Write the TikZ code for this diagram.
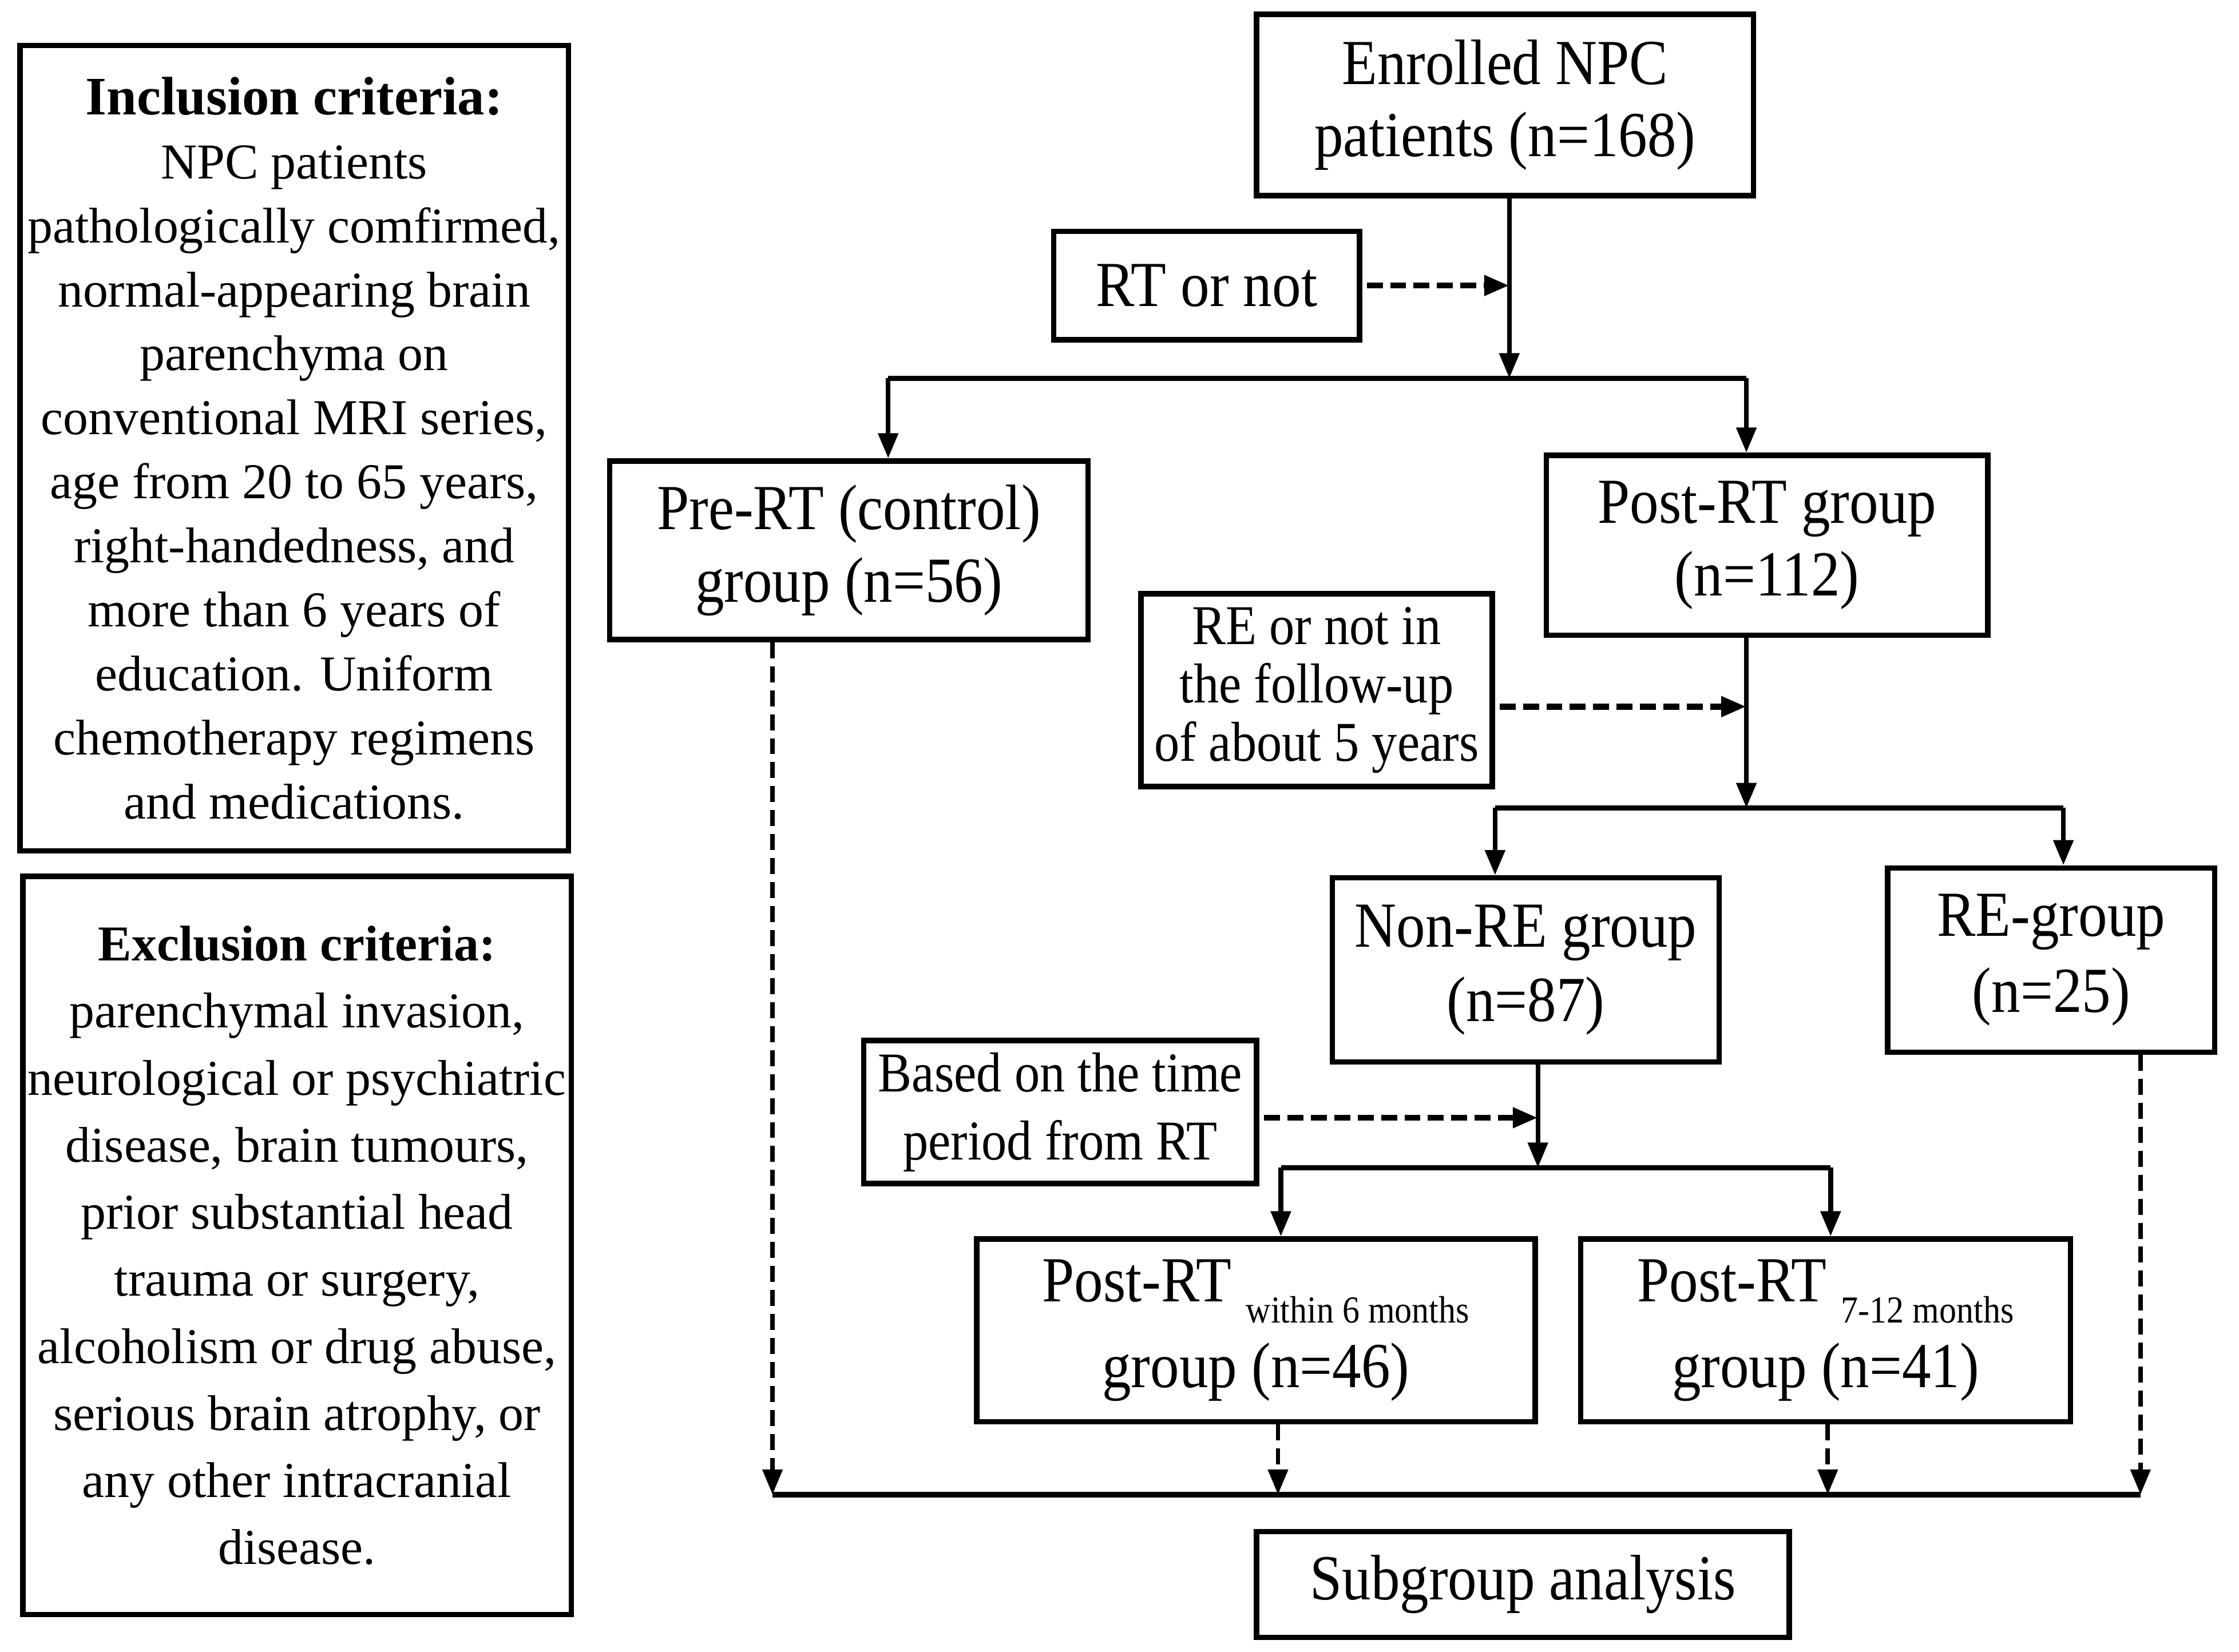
\documentclass[tikz,border=0pt]{standalone}
\usepackage{fontspec}
\setmainfont{Liberation Serif}
\newfontfamily\fc[FakeStretch=0.9]{Liberation Serif}
\usetikzlibrary{arrows.meta}
\begin{document}
\begin{tikzpicture}[x=0.025cm,y=-0.025cm,
  box/.style={draw, line width=2.7pt, align=center, inner sep=0pt},
  fcbig/.style={font=\fc\fontsize{32}{36}\selectfont},
  fcsmall/.style={font=\fc\fontsize{28}{29.2}\selectfont},
  conn/.style={line width=2.4pt},
  arr/.style={conn, -{Triangle[length=0.44cm,width=0.34cm]}},
  darr/.style={line width=2.2pt, dash pattern=on 0.28cm off 0.14cm, -{Triangle[length=0.44cm,width=0.34cm]}},
  hdarr/.style={line width=3pt, dash pattern=on 0.28cm off 0.13cm, shorten <=0.08cm, -{Triangle[length=0.44cm,width=0.34cm]}}]
\useasboundingbox (0,0) rectangle (1568,1157);

% criteria boxes
\node[box, minimum width=9.6cm, minimum height=14.1cm, font=\fontsize{25}{31.9}\selectfont] (incl) at (206,314)
  {{\fontsize{27}{31.9}\selectfont\textbf{Inclusion criteria:}}\\NPC patients\\pathologically comfirmed,\\normal-appearing brain\\parenchyma on\\conventional MRI series,\\age from 20 to 65 years,\\right-handedness, and\\more than 6 years of\\education. Uniform\\chemotherapy regimens\\and medications.};
\node[box, minimum width=9.6cm, minimum height=12.925cm, font=\fontsize{25}{33.4}\selectfont] (excl) at (208,872.5)
  {\textbf{Exclusion criteria:}\\parenchymal invasion,\\neurological or psychiatric\\disease, brain tumours,\\prior substantial head\\trauma or surgery,\\alcoholism or drug abuse,\\serious brain atrophy, or\\any other intracranial\\disease.};

% flowchart nodes
\node[box, fcbig, minimum width=8.7cm, minimum height=3.175cm] (enr) at (1054,73.5) {Enrolled NPC\\patients (n=168)};
\node[box, fcbig, minimum width=5.35cm, minimum height=1.9cm] (rt) at (845,200) {RT or not};
\node[box, fcbig, minimum width=8.375cm, minimum height=3.125cm] (pre) at (594.5,385.5) {Pre-RT (control)\\group (n=56)};
\node[box, fcbig, minimum width=7.725cm, minimum height=3.15cm] (post) at (1237.5,382) {Post-RT group\\(n=112)};
\node[box, fcsmall, minimum width=6.15cm, minimum height=3.375cm] (reor) at (922,483.5) {RE or not in\\the follow-up\\of about 5 years};
\node[box, font=\fc\fontsize{32}{37}\selectfont, minimum width=6.775cm, minimum height=3.225cm] (nonre) at (1068.5,679.5) {Non-RE group\\(n=87)};
\node[box, font=\fc\fontsize{32}{38}\selectfont, minimum width=5.725cm, minimum height=3.225cm] (re) at (1436.5,672.5) {RE-group\\(n=25)};
\node[box, font=\fc\fontsize{28}{34}\selectfont, minimum width=6.875cm, minimum height=2.5cm] (based) at (742.5,779) {Based on the time\\period from RT};
\node[box, font=\fc\fontsize{32}{43}\selectfont, minimum width=9.775cm, minimum height=3.2cm] (w6) at (879.5,932)
  {Post-RT \raisebox{-0.375cm}{\fontsize{19}{19}\selectfont within 6 months}\\group (n=46)};
\node[box, font=\fc\fontsize{32}{43}\selectfont, minimum width=8.575cm, minimum height=3.2cm] (m12) at (1278.5,932)
  {Post-RT \raisebox{-0.375cm}{\fontsize{19}{19}\selectfont 7-12 months}\\group (n=41)};
\node[box, fcbig, minimum width=9.325cm, minimum height=1.85cm] (sub) at (1066.5,1110) {Subgroup analysis};

% level 1
\coordinate (j1) at (1057,265);
\coordinate (j1l) at (622,265);
\coordinate (j1r) at (1223,265);
\draw[arr] (enr.south -| j1) -- (j1);
\draw[hdarr] (rt.east) -- (rt.east -| j1);
\draw[conn] (j1l) -- (j1r);
\draw[arr] (j1l) -- (j1l |- pre.north);
\draw[arr] (j1r) -- (j1r |- post.north);

% level 2
\coordinate (j2) at (1223,566);
\coordinate (j2l) at (1047,566);
\coordinate (j2r) at (1445,566);
\coordinate (r2) at (1223,495);
\draw[arr] (post.south -| j2) -- (j2);
\draw[hdarr] (reor.east |- r2) -- (r2);
\draw[conn] (j2l) -- (j2r);
\draw[arr] (j2l) -- (j2l |- nonre.north);
\draw[arr] (j2r) -- (j2r |- re.north);

% level 3
\coordinate (j3) at (1077,818);
\coordinate (j3l) at (897,818);
\coordinate (j3r) at (1282,818);
\coordinate (r3) at (1077,783);
\draw[arr] (nonre.south -| j3) -- (j3);
\draw[hdarr] (based.east |- r3) -- (r3);
\draw[conn] (j3l) -- (j3r);
\draw[arr] (j3l) -- (j3l |- w6.north);
\draw[arr] (j3r) -- (j3r |- m12.north);

% collection line
\coordinate (bl) at (541,1047);
\coordinate (b2) at (895,1047);
\coordinate (b3) at (1280,1047);
\coordinate (br) at (1499,1047);
\draw[line width=2.9pt] (bl) -- (br);
\draw[darr] (pre.south -| bl) -- (bl);
\draw[darr] (w6.south -| b2) -- (b2);
\draw[darr] (m12.south -| b3) -- (b3);
\draw[darr] (re.south -| br) -- (br);
\end{tikzpicture}
\end{document}
